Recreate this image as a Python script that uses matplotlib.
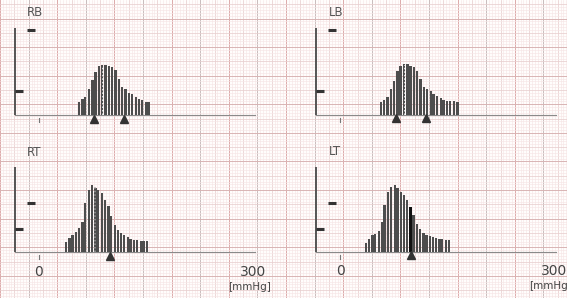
import matplotlib
matplotlib.use("Agg")
import matplotlib.pyplot as plt
import numpy as np

# ---- data (pressure in mmHg, pulse amplitude in arbitrary units)
rb_press = [56, 61, 65, 70, 75, 79, 84, 88, 93, 98, 102, 107, 112, 116, 121, 126,
            130, 135, 140, 144, 149, 153]
rb_amp = [13, 16, 18, 26, 35, 43, 49, 50, 50, 49, 48, 45, 36, 28, 26, 22,
          21, 18, 16, 15, 13, 13]
rb_marks = [77, 119]
rb_map = 90

lb_press = [57, 61, 66, 71, 75, 80, 84, 89, 94, 98, 103, 107, 112, 117, 121, 126,
            130, 135, 140, 144, 149, 153, 158, 163]
lb_amp = [13, 15, 18, 26, 34, 44, 49, 51, 51, 49, 48, 44, 36, 28, 26, 24,
          21, 19, 17, 15, 14, 14, 14, 13]
lb_marks = [78, 119]
lb_map = 90

rt_press = [38, 43, 47, 52, 56, 61, 65, 70, 74, 79, 83, 88, 92, 97, 101, 106,
            110, 115, 119, 124, 128, 133, 137, 142, 146, 151]
rt_amp = [10, 14, 17, 20, 24, 30, 49, 62, 67, 64, 62, 59, 52, 46, 36, 27,
          22, 19, 17, 15, 13, 12, 12, 11, 11, 11]
rt_marks = [99]
rt_map = 79

lt_press = [36, 40, 45, 49, 54, 58, 62, 67, 71, 76, 80, 85, 89, 93, 98, 102,
            107, 111, 116, 120, 125, 129, 133, 138, 142, 147, 151]
lt_amp = [9, 13, 17, 18, 21, 30, 47, 60, 65, 67, 64, 60, 57, 52, 45, 37,
          28, 23, 19, 17, 16, 15, 14, 13, 13, 12, 12]
lt_marks = [98]

W, H = 567, 298
fig = plt.figure(figsize=(W / 100, H / 100), dpi=100)
fig.patch.set_facecolor("#fffdfc")

# chart paper grid
bg = fig.add_axes([0, 0, 1, 1])
bg.set_xlim(0, W)
bg.set_ylim(H, 0)
bg.axis("off")
step = 2.86
for k, x in enumerate(np.arange(103 - 36 * step, W, step)):
    if k % 10 == 0:
        c, lw = ("#dcaaaa" if k % 20 == 0 else "#c9bdbd"), 0.7
    elif k % 5 == 0:
        c, lw = "#e8cfcf", 0.55
    else:
        c, lw = "#f6e6e6", 0.45
    bg.axvline(x, color=c, lw=lw, zorder=0)
for k, y in enumerate(np.arange(18.5 - 5 * step, H, step)):
    if k % 10 == 5:
        c, lw = "#d9b4b4", 0.7
    elif k % 5 == 0:
        c, lw = "#e8cfcf", 0.55
    else:
        c, lw = "#f6e6e6", 0.45
    bg.axhline(y, color=c, lw=lw, zorder=0)

PX = 0.72  # pixels per mmHg
XL, XR, YB, YT = -45, 320, -45, 110


def panel(x0, yb, name, press, amp, marks, map_p=None, map_col="white",
          hi=None, axis_top=87, cal=(85, 24), labels=False):
    left = x0 - (-XL) * PX
    ax = fig.add_axes([left / W, (H - (yb - YB)) / H,
                       (XR - XL) * PX / W, (YT - YB) / H])
    ax.set_xlim(XL, XR)
    ax.set_ylim(YB, YT)
    ax.axis("off")
    ax.patch.set_alpha(0)

    # baseline and amplitude axis
    ax.plot([-33, 300], [0, 0], color="#8a8a8a", lw=0.8)
    ax.plot([-33, -33], [0, axis_top], color="#555555", lw=1.4, solid_capstyle="butt")
    ax.plot([-16, -5], [cal[0], cal[0]], color="#333333", lw=2.2, solid_capstyle="butt")
    ax.plot([-33, -22], [cal[1], cal[1]], color="#333333", lw=2.2, solid_capstyle="butt")
    ax.plot([0, 0], [-3, -7], color="#777777", lw=0.8)

    colors = ["#4d4d4d"] * len(press)
    if hi is not None:
        colors[press.index(hi)] = "#111111"
    ax.bar(press, amp, width=3.3, color=colors, linewidth=0, zorder=3)
    if map_p is not None:
        ax.vlines(map_p, 0, max(amp) - 1, colors=map_col, linestyles=(0, (1, 1.3)),
                  lw=1.1, zorder=4)
    ax.plot(marks, [-3.5] * len(marks), linestyle="none", marker="^", ms=5.5,
            color="#333333", zorder=5, clip_on=False)

    ax.text(-16, axis_top + 15, name, fontsize=8.5, color="#555555",
            ha="left", va="center")
    if labels:
        ax.text(0, -19.5, "0", fontsize=10, color="#444444", ha="center", va="center")
        ax.text(298, -19.5, "300", fontsize=10, color="#444444", ha="center", va="center")
        ax.text(293, -34.5, "[mmHg]", fontsize=7.5, color="#444444", ha="center", va="center")
    return ax


panel(38.5, 115, "RB", rb_press, rb_amp, rb_marks, rb_map)
panel(340, 114.5, "LB", lb_press, lb_amp, lb_marks, lb_map)
panel(38.5, 252, "RT", rt_press, rt_amp, rt_marks, rt_map, map_col="#9a9a9a",
      axis_top=85, cal=(49, 23), labels=True)
panel(340, 251.5, "LT", lt_press, lt_amp, lt_marks, hi=98,
      axis_top=85, cal=(49, 23), labels=True)

fig.savefig("out.png", dpi=100, facecolor=fig.get_facecolor())
